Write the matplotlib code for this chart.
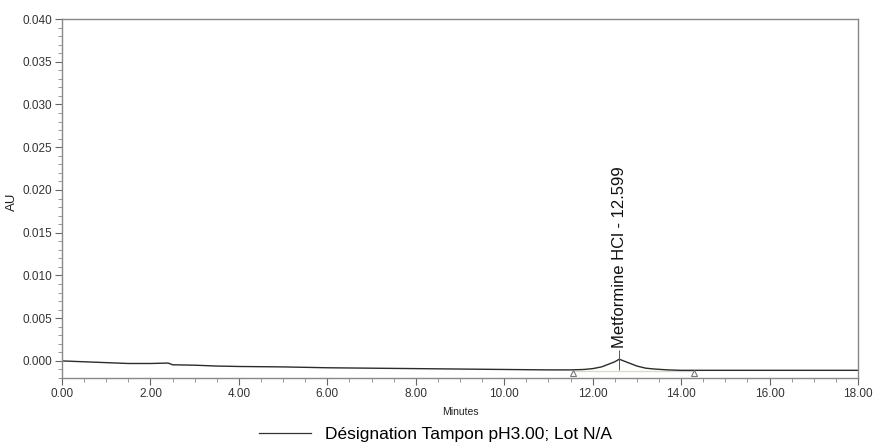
import matplotlib

matplotlib.use("Agg")

from matplotlib import pyplot as plt  # noqa: E402
from matplotlib.lines import Line2D  # noqa: E402
from matplotlib.ticker import MultipleLocator, FormatStrFormatter  # noqa: E402

# chromatogram trace (minutes, AU)
times = [0.0, 0.5, 1.0, 1.5, 2.0, 2.4, 2.5, 3.0, 3.5, 4.0, 5.0, 6.0, 7.0,
         8.0, 9.0, 10.0, 11.0, 11.5, 11.8, 12.0, 12.2, 12.35, 12.5, 12.6,
         12.7, 12.85, 13.0, 13.2, 13.4, 13.7, 14.0, 14.5, 15.0, 16.0, 17.0,
         18.0]
absorbance = [0.0, -0.0001, -0.0002, -0.0003, -0.0003, -0.00025, -0.00045,
              -0.0005, -0.0006, -0.00065, -0.0007, -0.0008, -0.00085,
              -0.0009, -0.00095, -0.001, -0.00105, -0.00105, -0.001,
              -0.0009, -0.0007, -0.0004, -0.0001, 0.0002, 0.0, -0.0003,
              -0.0006, -0.00085, -0.00095, -0.00105, -0.0011, -0.0011,
              -0.0011, -0.0011, -0.0011, -0.0011]

peak_name = "Metformine HCl"
peak_time = 12.599
peak_top = 0.0002
peak_base = -0.00105

# integration baseline start/end markers
marker_times = [11.55, 14.28]
marker_au = [-0.00137, -0.00137]

legend_label = "Désignation Tampon pH3.00; Lot N/A"

plt.rcParams["font.family"] = ["Liberation Sans", "DejaVu Sans"]

fig = plt.figure(figsize=(8.76, 4.44), dpi=100)
ax = fig.add_axes([0.0708, 0.1486, 0.9087, 0.8086])

ax.plot(times, absorbance, color="#2b2b2b", linewidth=1.0)
ax.plot(marker_times, [peak_base - 0.0001, peak_base - 0.0001],
        color="#d9dfa8", linewidth=0.9, zorder=1)
ax.plot(marker_times, marker_au, linestyle="none", marker="^",
        markersize=4.5, markerfacecolor="white", markeredgecolor="#777777",
        markeredgewidth=0.8)

ax.vlines(peak_time, peak_base, peak_top + 0.0011, color="#555555",
          linewidth=0.7)
ax.text(peak_time, peak_top + 0.0013, f"{peak_name} - {peak_time:.3f}",
        rotation=90, ha="center", va="bottom", fontsize=12, color="#111111")

ax.set_xlim(0, 18)
ax.set_ylim(-0.002, 0.040)
ax.xaxis.set_major_locator(MultipleLocator(2))
ax.xaxis.set_minor_locator(MultipleLocator(0.5))
ax.yaxis.set_major_locator(MultipleLocator(0.005))
ax.yaxis.set_minor_locator(MultipleLocator(0.001))
ax.xaxis.set_major_formatter(FormatStrFormatter("%.2f"))
ax.yaxis.set_major_formatter(FormatStrFormatter("%.3f"))

ax.tick_params(which="major", length=5, width=0.8, color="#666666",
               labelsize=8.5, labelcolor="#333333", pad=2)
ax.tick_params(which="minor", length=3, width=0.6, color="#888888")
for spine in ax.spines.values():
    spine.set_color("#888888")
    spine.set_linewidth(1.0)

ax.set_xlabel("Minutes", fontsize=7.5, color="#222222", labelpad=5)
ax.set_ylabel("AU", fontsize=9.5, color="#222222")
ax.yaxis.set_label_coords(-0.055, 0.49)

handle = Line2D([], [], color="#333333", linewidth=0.9)
fig.legend([handle], [legend_label], loc="center", frameon=False,
           bbox_to_anchor=(0.497, 0.0225), fontsize=12.5, handlelength=3.0,
           handletextpad=0.8)

fig.savefig("out.png", dpi=100)
plt.close(fig)
